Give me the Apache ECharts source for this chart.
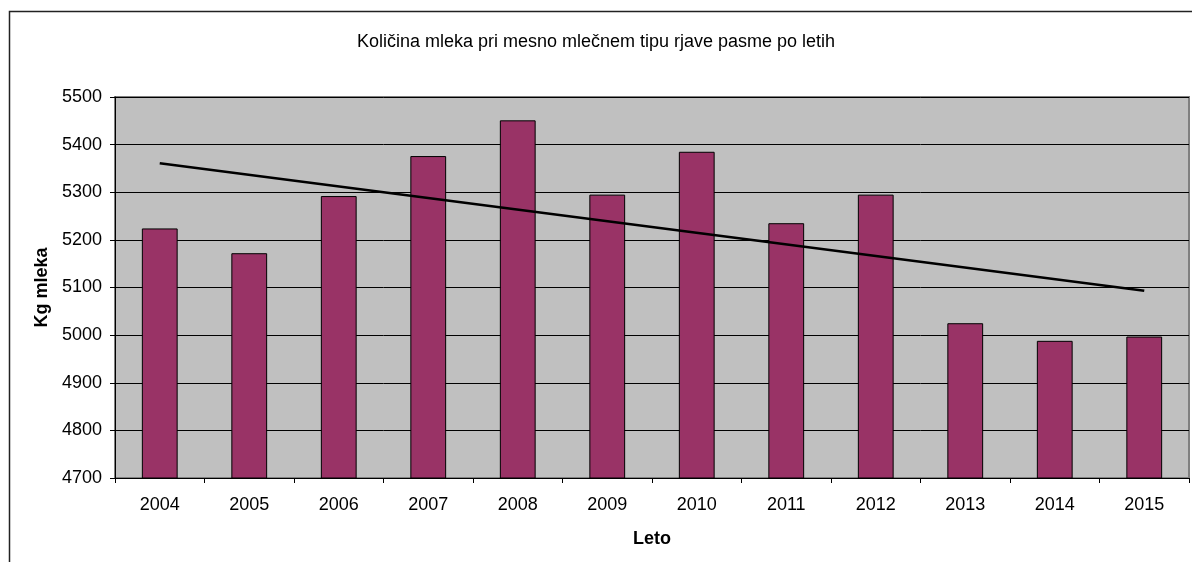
<!DOCTYPE html>
<html>
<head>
<meta charset="utf-8">
<script src="https://cdn.jsdelivr.net/npm/echarts@6/dist/echarts.min.js"></script>
<style>
html,body{margin:0;padding:0;background:#fff;}
#chart{width:1192px;height:562px;}
</style>
</head>
<body>
<div id="chart"></div>
<script>
const titleText = 'Količina mleka pri mesno mlečnem tipu rjave pasme po letih';
const years = ['2004','2005','2006','2007','2008','2009','2010','2011','2012','2013','2014','2015'];
const milkKg = [5224, 5172, 5292, 5376, 5451, 5295, 5385, 5235, 5295, 5025, 4988, 4997];
const trendYears = ['2004', '2015'];
const trendKg = [5361, 5093];
const yAxisName = 'Kg mleka';
const xAxisName = 'Leto';

const FONT = '"Liberation Sans", Arial, sans-serif';
const chart = echarts.init(document.getElementById('chart'));
chart.setOption({
  animation: false,
  backgroundColor: '#fff',
  title: {
    text: titleText,
    left: 'center',
    top: 28,
    textStyle: { fontFamily: FONT, fontSize: 18, fontWeight: 'normal', color: '#000' }
  },
  graphic: [{
    type: 'rect',
    shape: { x: 9.5, y: 11.5, width: 1300, height: 700 },
    style: { fill: 'none', stroke: '#222', lineWidth: 1.5 },
    silent: true
  }],
  grid: {
    left: 115, right: 3, top: 97, bottom: 84,
    show: true, backgroundColor: '#C0C0C0', borderColor: '#808080', borderWidth: 2
  },
  xAxis: {
    type: 'category',
    data: years,
    name: xAxisName,
    nameLocation: 'middle',
    nameGap: 52,
    nameTextStyle: { fontFamily: FONT, fontSize: 18, fontWeight: 'bold', color: '#000' },
    axisLine: { lineStyle: { color: '#000', width: 1 } },
    axisTick: { show: true, length: 5, lineStyle: { color: '#000' } },
    axisLabel: { fontFamily: FONT, fontSize: 18, color: '#000', margin: 18 }
  },
  yAxis: {
    type: 'value',
    min: 4700, max: 5500, interval: 100,
    name: yAxisName,
    nameLocation: 'middle',
    nameRotate: 90,
    nameGap: 64,
    nameTextStyle: { fontFamily: FONT, fontSize: 18, fontWeight: 'bold', color: '#000' },
    axisLine: { show: true, lineStyle: { color: '#000', width: 1 } },
    axisTick: { show: true, length: 5, lineStyle: { color: '#000' } },
    axisLabel: { fontFamily: FONT, fontSize: 18, color: '#000', margin: 13, formatter: v => String(v) },
    splitLine: { show: true, lineStyle: { color: '#000', width: 1 } }
  },
  series: [{
    type: 'bar',
    data: milkKg,
    barWidth: '40%',
    itemStyle: { color: '#993366', borderColor: '#000', borderWidth: 1 }
  }, {
    type: 'line',
    data: trendYears.map((y, i) => [y, trendKg[i]]),
    symbol: 'none',
    lineStyle: { color: '#000', width: 2.5 },
    z: 5
  }]
});
</script>
</body>
</html>
